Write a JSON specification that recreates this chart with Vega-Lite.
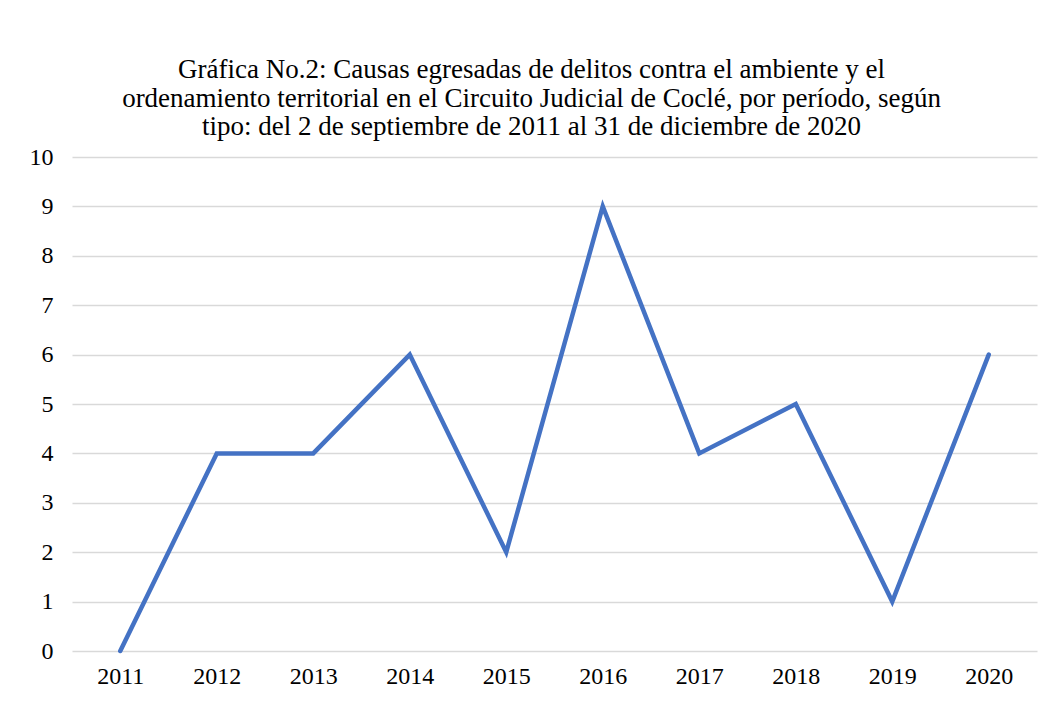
{
  "$schema": "https://vega.github.io/schema/vega-lite/v6.json",
  "width": 965,
  "height": 494,
  "autosize": {"type": "none"},
  "padding": {"left": 72, "top": 157, "right": 13, "bottom": 51},
  "background": "white",
  "title": {
    "text": ["Gráfica No.2: Causas egresadas de delitos contra el ambiente y el", "ordenamiento territorial en el Circuito Judicial de Coclé, por período, según", "tipo: del 2 de septiembre de 2011 al 31 de diciembre de 2020"],
    "anchor": "middle",
    "dx": -23,
    "offset": 4
  },
  "data": {
    "values": [
      {"year": "2011", "value": 0},
      {"year": "2012", "value": 4},
      {"year": "2013", "value": 4},
      {"year": "2014", "value": 6},
      {"year": "2015", "value": 2},
      {"year": "2016", "value": 9},
      {"year": "2017", "value": 4},
      {"year": "2018", "value": 5},
      {"year": "2019", "value": 1},
      {"year": "2020", "value": 6}
    ]
  },
  "mark": {"type": "line", "color": "#4472c4", "strokeWidth": 4.5, "strokeCap": "round", "strokeJoin": "miter"},
  "encoding": {
    "x": {
      "field": "year",
      "type": "ordinal",
      "scale": {"type": "point", "padding": 0.5},
      "axis": {
        "title": null,
        "labelAngle": 0,
        "ticks": false,
        "domain": false,
        "grid": false,
        "labelPadding": 13
      }
    },
    "y": {
      "field": "value",
      "type": "quantitative",
      "scale": {"domain": [0, 10], "nice": false},
      "axis": {
        "title": null,
        "values": [0, 1, 2, 3, 4, 5, 6, 7, 8, 9, 10],
        "ticks": false,
        "domain": false,
        "grid": true,
        "gridColor": "#d9d9d9",
        "gridWidth": 1.5,
        "labelPadding": 19
      }
    }
  },
  "config": {
    "font": "Liberation Serif",
    "view": {"stroke": null},
    "title": {
      "font": "Liberation Serif",
      "fontSize": 27,
      "fontWeight": "normal",
      "color": "#000000",
      "lineHeight": 28.5
    },
    "axis": {
      "labelFont": "Liberation Serif",
      "labelFontSize": 24,
      "labelColor": "#000000"
    }
  }
}
